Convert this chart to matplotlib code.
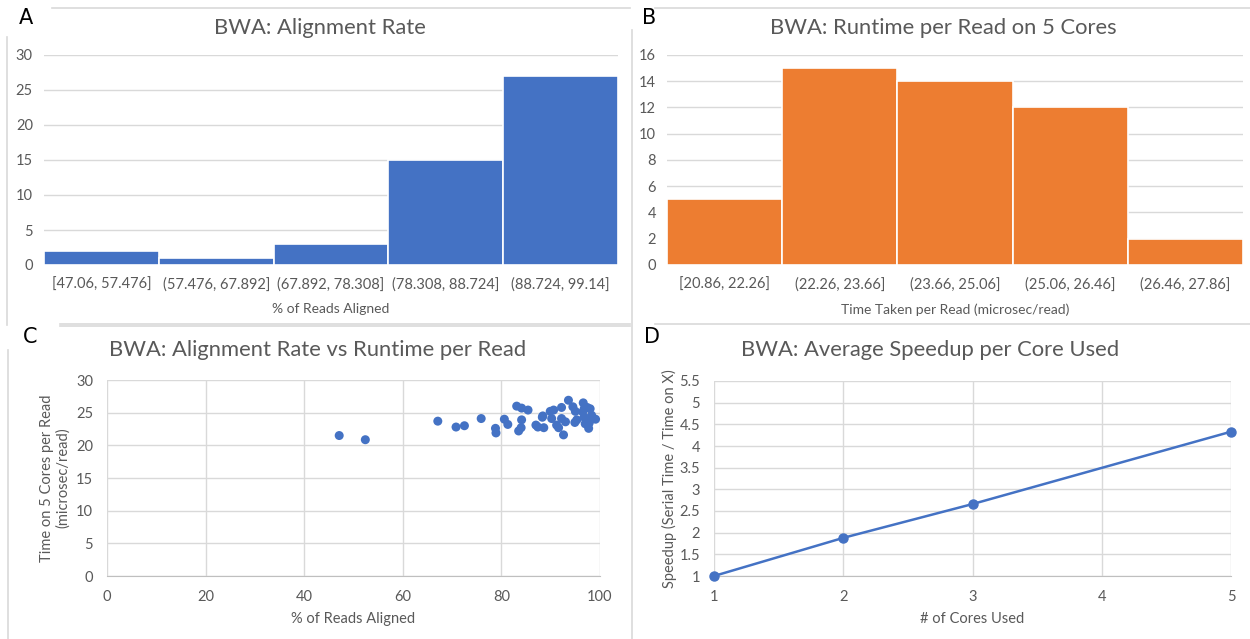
import matplotlib.pyplot as plt
from matplotlib.lines import Line2D
import numpy as np

plt.rcParams['font.family'] = ['Lato', 'DejaVu Sans']

BLUE = '#4472C4'
ORANGE = '#ED7D31'
GRID = '#d9d9d9'
TXT = '#595959'

# histogram counts
align_bins = ['[47.06, 57.476]', '(57.476, 67.892]', '(67.892, 78.308]',
              '(78.308, 88.724]', '(88.724, 99.14]']
align_counts = [2, 1, 3, 15, 27]

runtime_bins = ['[20.86, 22.26]', '(22.26, 23.66]', '(23.66, 25.06]',
                '(25.06, 26.46]', '(26.46, 27.86]']
runtime_counts = [5, 15, 14, 12, 2]

# per-sample alignment rate (%) vs runtime per read (microsec/read)
pct_aligned = [47.1, 52.4, 67.1, 70.8, 72.5, 75.9, 78.8, 78.9, 80.6, 81.3,
               83.1, 84.1, 85.4, 84.1, 83.5, 84.0, 87.0, 87.4, 88.4, 88.6,
               89.9, 90.2, 91.2, 91.6, 90.6, 92.2, 92.2, 92.6, 93.6, 94.5,
               94.9, 95.3, 96.6, 96.8, 97.4, 98.0, 96.8, 97.4, 98.3, 99.1,
               97.0, 97.8, 97.7, 95.0, 96.5, 98.3, 88.3, 93.0]
time_per_read = [21.5, 20.86, 23.7, 22.8, 23.0, 24.1, 22.6, 21.9, 24.0, 23.2,
                 26.0, 25.7, 25.4, 23.9, 22.2, 22.7, 23.1, 22.8, 24.5, 22.7,
                 25.2, 24.1, 23.1, 22.7, 25.4, 25.8, 24.1, 21.6, 26.9, 25.9,
                 23.5, 23.9, 26.5, 25.6, 25.8, 25.6, 24.3, 24.0, 24.0, 24.0,
                 23.3, 23.4, 22.6, 25.2, 25.1, 24.6, 24.3, 23.6]

cores = [1, 2, 3, 5]
speedup = [1.0, 1.88, 2.66, 4.33]

W, H = 1250, 639
fig = plt.figure(figsize=(W / 100, H / 100), dpi=100)


def px_axes(left, top, right, bottom):
    return fig.add_axes([left / W, 1 - bottom / H, (right - left) / W, (bottom - top) / H])


def style(ax):
    for s in ax.spines.values():
        s.set_visible(False)
    ax.tick_params(length=0, colors=TXT, labelsize=10.5)
    ax.set_axisbelow(True)


def hist_panel(ax, labels, counts, color, ymax, ystep, xlabel):
    style(ax)
    x = np.arange(len(counts))
    ax.bar(x, counts, width=1.0, color=color, edgecolor='white', linewidth=1.2)
    ax.set_xlim(-0.5, len(counts) - 0.5)
    ax.set_ylim(0, ymax)
    ax.set_yticks(np.arange(0, ymax + 1, ystep))
    ax.set_xticks(x)
    ax.set_xticklabels(labels)
    ax.yaxis.grid(True, color=GRID, lw=1)
    ax.tick_params(axis='x', pad=9)
    ax.tick_params(axis='y', pad=8)
    ax.set_xlabel(xlabel, color=TXT, fontsize=10, labelpad=8)


axA = px_axes(44, 55, 618, 265)
hist_panel(axA, align_bins, align_counts, BLUE, 30, 5, '% of Reads Aligned')

axB = px_axes(667, 55, 1243, 265)
hist_panel(axB, runtime_bins, runtime_counts, ORANGE, 16, 2,
           'Time Taken per Read (microsec/read)')

# scatter: alignment rate vs runtime
axC = px_axes(107, 380, 600, 576)
style(axC)
axC.scatter(pct_aligned, time_per_read, s=42, color=BLUE, edgecolors='none',
            zorder=3, clip_on=False)
axC.set_xlim(0, 100)
axC.set_ylim(0, 30)
axC.set_xticks(range(0, 101, 20))
axC.set_yticks(range(0, 31, 5))
axC.grid(True, color=GRID, lw=1)
axC.spines['bottom'].set_visible(True)
axC.spines['bottom'].set_color('#bfbfbf')
axC.tick_params(axis='x', pad=10)
axC.tick_params(axis='y', pad=10)
axC.set_xlabel('% of Reads Aligned', color=TXT, fontsize=10.5, labelpad=6)
axC.set_ylabel('Time on 5 Cores per Read\n(microsec/read)', color=TXT,
               fontsize=10.5, labelpad=4)

# speedup line
axD = px_axes(714, 381, 1231, 576)
style(axD)
axD.plot(cores, speedup, color=BLUE, lw=1.8, marker='o', markersize=6.5,
         zorder=3, clip_on=False)
axD.set_xlim(1, 5)
axD.set_ylim(1, 5.5)
axD.set_xticks(range(1, 6))
axD.set_yticks(np.arange(1, 5.51, 0.5))
axD.set_yticklabels(['1', '1.5', '2', '2.5', '3', '3.5', '4', '4.5', '5', '5.5'])
axD.grid(True, color=GRID, lw=1)
axD.spines['bottom'].set_visible(True)
axD.spines['bottom'].set_color('#bfbfbf')
axD.tick_params(axis='x', pad=10)
axD.tick_params(axis='y', pad=10)
axD.set_xlabel('# of Cores Used', color=TXT, fontsize=10.5, labelpad=6)
axD.set_ylabel('Speedup (Serial Time / Time on X)', color=TXT, fontsize=10.5, labelpad=2)

# titles and panel letters
titles = [(320, 28, 'BWA: Alignment Rate'),
          (943, 28, 'BWA: Runtime per Read on 5 Cores'),
          (318, 350, 'BWA: Alignment Rate vs Runtime per Read'),
          (930, 350, 'BWA: Average Speedup per Core Used')]
for x, y, t in titles:
    fig.text(x / W, 1 - y / H, t, ha='center', va='center', fontsize=15.8, color=TXT)

letters = [(26, 18, 'A'), (649, 18, 'B'), (30, 337, 'C'), (652, 337, 'D')]
for x, y, t in letters:
    fig.text(x / W, 1 - y / H, t, ha='center', va='center', fontsize=15, color='black',
             family=['DejaVu Sans'])

# chart frame lines
frames = [((52, 630), (8, 8)), ((7, 7), (37, 325)), ((60, 630), (324, 324)),
          ((655, 1250), (8, 8)), ((655, 1250), (324, 324)), ((632, 632), (30, 639)),
          ((8, 8), (350, 639)), ((60, 630), (326, 326))]
for xs, ys in frames:
    fig.add_artist(Line2D([xs[0] / W, xs[1] / W], [1 - ys[0] / H, 1 - ys[1] / H],
                          transform=fig.transFigure, color='#d9d9d9', lw=1.2))

fig.savefig('out.png', dpi=100, facecolor='white')
